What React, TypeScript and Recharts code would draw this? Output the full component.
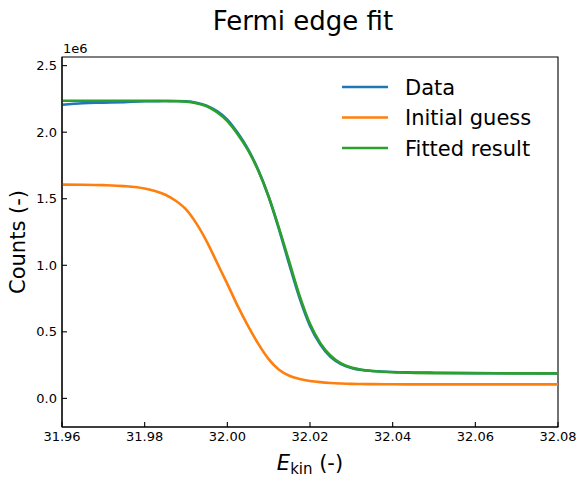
import React from 'react';
import { LineChart, Line, XAxis, YAxis, ReferenceArea } from 'recharts';

// kinetic energy grid (-) and intensities in units of 1e6 counts
const energy = [
  31.96, 31.965, 31.97, 31.975, 31.98, 31.9825, 31.985, 31.9875, 31.99, 31.9925,
  31.995, 31.9975, 32.0, 32.0025, 32.005, 32.0075, 32.01, 32.0125, 32.015, 32.0175,
  32.02, 32.0225, 32.025, 32.0275, 32.03, 32.0325, 32.035, 32.04, 32.045, 32.05,
  32.06, 32.07, 32.08,
];

const measured = [
  2.206, 2.218, 2.222, 2.226, 2.232, 2.233, 2.234, 2.234, 2.232, 2.222,
  2.2, 2.158, 2.095, 1.995, 1.872, 1.715, 1.515, 1.27, 1.005, 0.752,
  0.545, 0.405, 0.31, 0.258, 0.229, 0.213, 0.206, 0.198, 0.195, 0.193,
  0.19, 0.189, 0.187,
];

const initialGuess = [
  1.606, 1.605, 1.602, 1.595, 1.577, 1.558, 1.53, 1.485, 1.42, 1.315,
  1.18, 1.02, 0.86, 0.695, 0.545, 0.41, 0.295, 0.215, 0.17, 0.146,
  0.131, 0.122, 0.116, 0.112, 0.109, 0.108, 0.107, 0.106, 0.105, 0.105,
  0.105, 0.105, 0.105,
];

const fitted = [
  2.236, 2.236, 2.236, 2.236, 2.235, 2.235, 2.234, 2.233, 2.23, 2.218,
  2.195, 2.15, 2.083, 1.985, 1.865, 1.71, 1.515, 1.28, 1.025, 0.77,
  0.56, 0.415, 0.32, 0.263, 0.232, 0.215, 0.206, 0.196, 0.192, 0.19,
  0.189, 0.188, 0.188,
];

const xTicks = [31.96, 31.98, 32.0, 32.02, 32.04, 32.06, 32.08];
const yTicks = [0, 0.5, 1.0, 1.5, 2.0, 2.5];
const xDomain = [31.96, 32.08];
const yDomain = [-0.215, 2.565];

const series = [
  { key: 'data', name: 'Data', color: '#1f77b4' },
  { key: 'guess', name: 'Initial guess', color: '#ff7f0e' },
  { key: 'fit', name: 'Fitted result', color: '#2ca02c' },
];

const rows = energy.map((e, i) => ({
  e,
  data: measured[i],
  guess: initialGuess[i],
  fit: fitted[i],
}));

const FONT = '"DejaVu Sans", sans-serif';

export default function App() {
  return (
    <div style={{ position: 'absolute', left: 0, top: 0, width: 588, height: 485, background: '#fff' }}>
      <LineChart
        width={588}
        height={485}
        data={rows}
        margin={{ top: 57, right: 30, bottom: 0, left: 0 }}
      >
        <XAxis
          dataKey="e"
          type="number"
          domain={xDomain}
          ticks={xTicks}
          tickFormatter={(v: number) => v.toFixed(2)}
          allowDataOverflow
          height={58}
          tickSize={-5}
          tickMargin={10}
          axisLine={{ stroke: '#000', strokeWidth: 1.1 }}
          tickLine={{ stroke: '#000', strokeWidth: 1.1 }}
          tick={{ fill: '#000', fontSize: 13, fontFamily: FONT }}
        />
        <YAxis
          type="number"
          domain={yDomain}
          ticks={yTicks}
          tickFormatter={(v: number) => v.toFixed(1)}
          allowDataOverflow
          width={62}
          tickSize={-5}
          tickMargin={10}
          axisLine={{ stroke: '#000', strokeWidth: 1.1 }}
          tickLine={{ stroke: '#000', strokeWidth: 1.1 }}
          tick={{ fill: '#000', fontSize: 13, fontFamily: FONT }}
        />
        {/* axes frame */}
        <ReferenceArea
          x1={xDomain[0]}
          x2={xDomain[1]}
          y1={yDomain[0]}
          y2={yDomain[1]}
          fill="none"
          stroke="#000"
          strokeWidth={1.1}
          ifOverflow="visible"
        />
        {series.map((s) => (
          <Line
            key={s.key}
            type="monotone"
            dataKey={s.key}
            name={s.name}
            stroke={s.color}
            strokeWidth={2.6}
            dot={false}
            isAnimationActive={false}
          />
        ))}
        {series.map((s, i) => (
          <g key={`leg-${s.key}`}>
            <line x1={342} x2={388} y1={87 + i * 30.5} y2={87 + i * 30.5} stroke={s.color} strokeWidth={2.6} />
            <text x={405} y={94.5 + i * 30.5} fontFamily={FONT} fontSize={21} fill="#000">
              {s.name}
            </text>
          </g>
        ))}
        <text x={303} y={30} textAnchor="middle" fontFamily={FONT} fontSize={26} fill="#000">
          Fermi edge fit
        </text>
        <text x={63} y={53} fontFamily={FONT} fontSize={13} fill="#000">
          1e6
        </text>
        <text
          x={0}
          y={0}
          transform="translate(25 242) rotate(-90)"
          textAnchor="middle"
          fontFamily={FONT}
          fontSize={21}
          fill="#000"
        >
          Counts (-)
        </text>
        <text x={310} y={470} textAnchor="middle" fontFamily={FONT} fontSize={21} fill="#000">
          <tspan fontStyle="italic">E</tspan>
          <tspan fontSize={15} dy={4}>kin</tspan>
          <tspan dy={-4}> (-)</tspan>
        </text>
      </LineChart>
    </div>
  );
}
